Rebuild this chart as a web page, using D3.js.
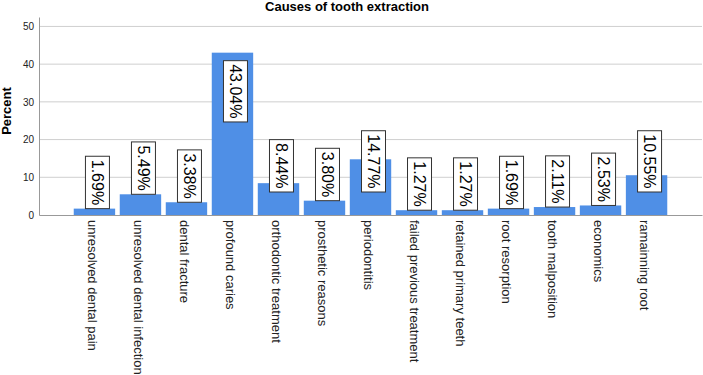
<!DOCTYPE html>
<html>
<head>
<meta charset="utf-8">
<script src="https://cdn.jsdelivr.net/npm/d3@7"></script>
<style>
  body { margin: 0; background: #fff; }
  svg text { font-family: "Liberation Sans", Arial, sans-serif; }
</style>
</head>
<body>
<div id="chart"></div>
<script>
// chart data
var causes = [
    "unresolved dental pain",
    "unresolved dental infection",
    "dental fracture",
    "profound caries",
    "orthodontic treatment",
    "prosthetic reasons",
    "periodontitis",
    "failed previous treatment",
    "retained primary teeth",
    "root resorption",
    "tooth malposition",
    "economics",
    "ramainning root"
];
var percents = [1.69, 5.49, 3.38, 43.04, 8.44, 3.80, 14.77, 1.27, 1.27, 1.69, 2.11, 2.53, 10.55];
var yTicks = [0, 10, 20, 30, 40, 50];

var svgWidth = 703;
var svgHeight = 375;

var margin = { top: 17, right: 1, bottom: 160, left: 39 };
var width = svgWidth - margin.left - margin.right;
var height = svgHeight - margin.top - margin.bottom;

var svg = d3.select("#chart")
    .append("svg")
    .attr("width", svgWidth)
    .attr("height", svgHeight);

var chartGroup = svg.append("g")
    .attr("transform", `translate(${margin.left}, ${margin.top})`);

var xBandScale = d3.scaleBand()
    .domain(causes)
    .range([0, width])
    .paddingInner(0.1)
    .paddingOuter(0.755);

var yLinearScale = d3.scaleLinear()
    .domain([0, 52.5])
    .range([height, 0]);

// gridlines
chartGroup.selectAll(".grid")
    .data(yTicks.filter(d => d > 0))
    .enter()
    .append("line")
    .attr("x1", 0)
    .attr("x2", width)
    .attr("y1", d => yLinearScale(d))
    .attr("y2", d => yLinearScale(d))
    .attr("stroke", "#cfcfcf")
    .attr("stroke-width", 1);

// y axis
var leftAxis = d3.axisLeft(yLinearScale).tickValues(yTicks).tickSize(0).tickPadding(5);
var yAxisG = chartGroup.append("g").call(leftAxis);
yAxisG.select(".domain").attr("stroke", "#999");
yAxisG.selectAll("text")
    .attr("font-size", "10px")
    .attr("fill", "#222");

// bars
var data = causes.map((c, i) => ({ cause: c, value: percents[i] }));

chartGroup.selectAll("rect.bar")
    .data(data)
    .enter()
    .append("rect")
    .attr("class", "bar")
    .attr("x", d => xBandScale(d.cause))
    .attr("y", d => yLinearScale(d.value))
    .attr("width", xBandScale.bandwidth())
    .attr("height", d => height - yLinearScale(d.value))
    .attr("fill", "#4f8fe6");

// x axis
var bottomAxis = d3.axisBottom(xBandScale).tickSize(0).tickPadding(0);
var xAxisG = chartGroup.append("g")
    .attr("transform", `translate(0, ${height})`)
    .call(bottomAxis);
xAxisG.select(".domain").attr("stroke", "#999");
xAxisG.selectAll("text")
    .attr("transform", "translate(-2, 5) rotate(90)")
    .attr("x", 0)
    .attr("y", 0)
    .attr("dy", "0.35em")
    .attr("text-anchor", "start")
    .attr("font-size", "13px")
    .attr("fill", "#222");

// value labels
var labels = chartGroup.selectAll("g.label")
    .data(data)
    .enter()
    .append("g")
    .attr("class", "label");

labels.append("text")
    .text(d => d.value.toFixed(2) + "%")
    .attr("font-size", "16px")
    .attr("fill", "#000")
    .attr("text-anchor", "middle")
    .attr("dy", "0.35em")
    .attr("transform", "rotate(90)");

labels.each(function(d) {
    var g = d3.select(this);
    var len = g.select("text").node().getComputedTextLength();
    var boxH = len + 7;
    var boxW = 24;
    var cx = xBandScale(d.cause) + xBandScale.bandwidth() / 2 + 3;
    var barTop = yLinearScale(d.value);
    var bottom = d.value > 30 ? barTop + 8 + boxH : Math.max(barTop, yLinearScale(6.1));
    var cy = bottom - boxH / 2;
    g.attr("transform", `translate(${cx}, ${cy})`);
    g.insert("rect", "text")
        .attr("x", -boxW / 2)
        .attr("y", -boxH / 2)
        .attr("width", boxW)
        .attr("height", boxH)
        .attr("fill", "#fff")
        .attr("stroke", "#333")
        .attr("stroke-width", 1);
});

// title
svg.append("text")
    .attr("x", 347)
    .attr("y", 11)
    .attr("text-anchor", "middle")
    .attr("font-size", "13px")
    .attr("font-weight", "bold")
    .text("Causes of tooth extraction");

// y axis label
svg.append("text")
    .attr("transform", "translate(11, 111) rotate(-90)")
    .attr("text-anchor", "middle")
    .attr("font-size", "13px")
    .attr("font-weight", "bold")
    .text("Percent");
</script>
</body>
</html>
